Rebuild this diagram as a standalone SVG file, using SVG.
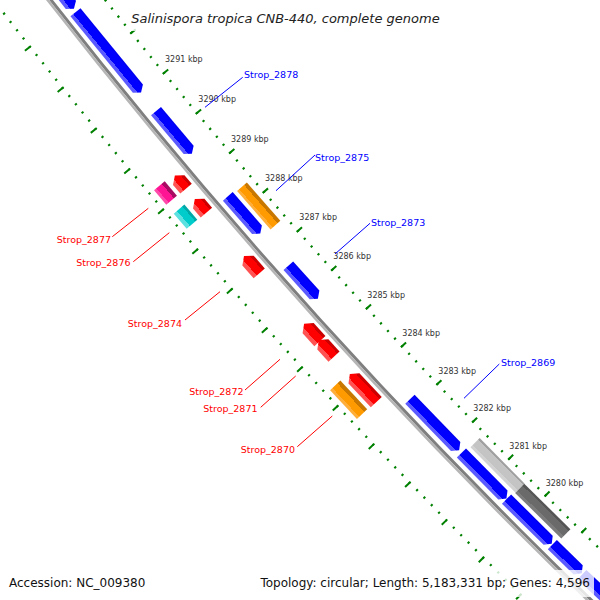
<svg xmlns="http://www.w3.org/2000/svg" width="600" height="600" viewBox="0 0 600 600">
<defs>
<style>
.tk{font-family:"DejaVu Sans",sans-serif;font-size:8px;fill:#333}
.lb{font-family:"DejaVu Sans",sans-serif;font-size:9.5px}
.lr{fill:#ff0000;text-anchor:end}
.lbl{fill:#0000ff}
.cr{stroke:#ff0000;stroke-width:1;fill:none}
.cb{stroke:#0000ff;stroke-width:1;fill:none}
.ft{font-family:"DejaVu Sans",sans-serif;font-size:12px;fill:#111}
.box{fill:#fff;fill-opacity:0.8}
.ring{fill:none;stroke:#008000}
</style>
<linearGradient id="gBlue" x1="0" y1="0" x2="1" y2="0">
<stop offset="0" stop-color="#0000f0"/><stop offset="0.12" stop-color="#0000f0"/><stop offset="0.12" stop-color="#0000ff"/><stop offset="0.72" stop-color="#0000ff"/><stop offset="0.72" stop-color="#5a5aff"/><stop offset="1" stop-color="#5a5aff"/>
</linearGradient>
<linearGradient id="gRed" x1="0" y1="0" x2="1" y2="0">
<stop offset="0" stop-color="#cc0000"/><stop offset="0.2" stop-color="#cc0000"/><stop offset="0.2" stop-color="#ff0000"/><stop offset="0.72" stop-color="#ff0000"/><stop offset="0.72" stop-color="#ff5252"/><stop offset="1" stop-color="#ff5252"/>
</linearGradient>
<linearGradient id="gOrange" x1="0" y1="0" x2="1" y2="0">
<stop offset="0" stop-color="#c87800"/><stop offset="0.28" stop-color="#c87800"/><stop offset="0.28" stop-color="#ff9a00"/><stop offset="0.78" stop-color="#ff9a00"/><stop offset="0.78" stop-color="#ffae3a"/><stop offset="1" stop-color="#ffae3a"/>
</linearGradient>
<linearGradient id="gPink" x1="0" y1="0" x2="1" y2="0">
<stop offset="0" stop-color="#a80c62"/><stop offset="0.28" stop-color="#a80c62"/><stop offset="0.28" stop-color="#ff1493"/><stop offset="0.78" stop-color="#ff1493"/><stop offset="0.78" stop-color="#ff4aab"/><stop offset="1" stop-color="#ff4aab"/>
</linearGradient>
<linearGradient id="gCyan" x1="0" y1="0" x2="1" y2="0">
<stop offset="0" stop-color="#00a8a8"/><stop offset="0.2" stop-color="#00a8a8"/><stop offset="0.2" stop-color="#00cccc"/><stop offset="0.7" stop-color="#00cccc"/><stop offset="0.7" stop-color="#5ce0e0"/><stop offset="1" stop-color="#5ce0e0"/>
</linearGradient>
<linearGradient id="gLGray" x1="0" y1="0" x2="1" y2="0">
<stop offset="0" stop-color="#a0a0a0"/><stop offset="0.15" stop-color="#a0a0a0"/><stop offset="0.15" stop-color="#c4c4c4"/><stop offset="0.75" stop-color="#c4c4c4"/><stop offset="0.75" stop-color="#d2d2d2"/><stop offset="1" stop-color="#d2d2d2"/>
</linearGradient>
<linearGradient id="gDGray" x1="0" y1="0" x2="1" y2="0">
<stop offset="0" stop-color="#555555"/><stop offset="0.2" stop-color="#555555"/><stop offset="0.2" stop-color="#6a6a6a"/><stop offset="0.75" stop-color="#6a6a6a"/><stop offset="0.75" stop-color="#7c7c7c"/><stop offset="1" stop-color="#7c7c7c"/>
</linearGradient>
</defs>
<rect width="600" height="600" fill="#fff"/>

<g id="rings" transform="translate(4613,-3564)">
<circle r="5789" fill="none" stroke="#7f7f7f" stroke-width="3"/>
<circle r="5791.75" fill="none" stroke="#b5b5b5" stroke-width="2.5"/>
<path class="ring" stroke-width="2.4" stroke-dasharray="2 8.35451" stroke-dashoffset="1" d="M-4608.33,3433.02 A5746.5,5746.5 0 0 0 -3880.44,4238.44"/>
<path class="ring" stroke-width="7" stroke-dasharray="2 49.7546" stroke-dashoffset="1" d="M-4606.72,3431.83 A5744.5,5744.5 0 0 0 -3879.09,4236.97"/>
<path class="ring" stroke-width="2.4" stroke-dasharray="2 8.51307" stroke-dashoffset="1" d="M-4678.90,3485.59 A5834.5,5834.5 0 0 0 -3939.87,4303.34"/>
<path class="ring" stroke-width="7" stroke-dasharray="2 50.5924" stroke-dashoffset="1" d="M-4681.31,3487.38 A5837.5,5837.5 0 0 0 -3941.90,4305.55"/>
</g>

<g id="tick-labels" class="tk">
<text x="165" y="62.2">3291 kbp</text>
<text x="198.3" y="102.2">3290 kbp</text>
<text x="231" y="142.2">3289 kbp</text>
<text x="265" y="181.2">3288 kbp</text>
<text x="299.3" y="219.9">3287 kbp</text>
<text x="333.3" y="258.9">3286 kbp</text>
<text x="367.3" y="298.2">3285 kbp</text>
<text x="402.3" y="336.2">3284 kbp</text>
<text x="438.3" y="374.2">3283 kbp</text>
<text x="473.3" y="411.2">3282 kbp</text>
<text x="509.3" y="448.9">3281 kbp</text>
<text x="545.7" y="486.2">3280 kbp</text>
</g>

<g id="genes">
<g id="gene_top1"><polygon transform="translate(4613,-3564) rotate(141.7926)" fill="url(#gBlue)" points="5776.5,0 5783,5 5783,150 5770,150 5770,5"/></g>
<g id="gene_top2"><polygon transform="translate(4613,-3564) rotate(140.7292)" fill="url(#gBlue)" points="5776.5,0 5783,5 5783,103.6 5770,103.6 5770,5"/></g>
<g id="Strop_2878"><polygon transform="translate(4613,-3564) rotate(139.9395)" fill="url(#gBlue)" points="5776.5,0 5783,5 5783,55.7 5770,55.7 5770,5"/><text class="lb lbl" x="244" y="78">Strop_2878</text></g>
<g id="Strop_2875"><polygon transform="translate(4613,-3564) rotate(138.8967)" fill="url(#gBlue)" points="5776.5,0 5783,5 5783,49.4 5770,49.4 5770,5"/><text class="lb lbl" x="315" y="161">Strop_2875</text></g>
<g id="gene_orange1"><polygon transform="translate(4613,-3564) rotate(138.8606)" fill="url(#gOrange)" points="5753,0 5766,0 5766,50.9 5753,50.9"/></g>
<g id="Strop_2873"><polygon transform="translate(4613,-3564) rotate(138.0347)" fill="url(#gBlue)" points="5776.5,0 5783,5 5783,44.2 5770,44.2 5770,5"/><text class="lb lbl" x="371" y="225.7">Strop_2873</text></g>
<g id="Strop_2869"><polygon transform="translate(4613,-3564) rotate(135.9802)" fill="url(#gBlue)" points="5776.5,0 5783,5 5783,70.8 5770,70.8 5770,5"/><text class="lb lbl" x="501" y="366">Strop_2869</text></g>
<g id="gene_blue7"><polygon transform="translate(4613,-3564) rotate(135.3091)" fill="url(#gBlue)" points="5776.5,0 5783,5 5783,64 5770,64 5770,5"/></g>
<g id="gene_blue8"><polygon transform="translate(4613,-3564) rotate(134.6742)" fill="url(#gBlue)" points="5776.5,0 5783,5 5783,63.5 5770,63.5 5770,5"/></g>
<g id="gene_blue9"><polygon transform="translate(4613,-3564) rotate(134.2561)" fill="url(#gBlue)" points="5776.5,0 5783,5 5783,41.1 5770,41.1 5770,5"/></g>
<g id="gene_blue10"><polygon transform="translate(4613,-3564) rotate(133.2495)" fill="url(#gBlue)" points="5776.5,0 5783,5 5783,100.4 5770,100.4 5770,5"/></g>
<g id="gene_lgray"><polygon transform="translate(4613,-3564) rotate(135.2885)" fill="url(#gLGray)" points="5753,0 5766,0 5766,63.8 5753,63.8"/></g>
<g id="gene_dgray"><polygon transform="translate(4613,-3564) rotate(134.6432)" fill="url(#gDGray)" points="5753,0 5766,0 5766,64.9 5753,64.9"/></g>
<g id="Strop_2877"><polygon transform="translate(4613,-3564) rotate(139.7123)" fill="url(#gRed)" points="5796,0 5811,0 5811,11.3 5803.5,17.3 5796,11.3"/><text class="lb lr" x="111" y="243">Strop_2877</text></g>
<g id="gene_pink"><polygon transform="translate(4613,-3564) rotate(139.7175)" fill="url(#gPink)" points="5815,0 5829,0 5829,18.9 5815,18.9"/></g>
<g id="Strop_2876"><polygon transform="translate(4613,-3564) rotate(139.4026)" fill="url(#gRed)" points="5796,0 5811,0 5811,11.8 5803.5,17.8 5796,11.8"/><text class="lb lr" x="130.5" y="266.3">Strop_2876</text></g>
<g id="gene_cyan"><polygon transform="translate(4613,-3564) rotate(139.4078)" fill="url(#gCyan)" points="5815,0 5829,0 5829,19.9 5815,19.9"/></g>
<g id="Strop_2874"><polygon transform="translate(4613,-3564) rotate(138.6077)" fill="url(#gRed)" points="5796,0 5811,0 5811,17 5803.5,23 5796,17"/><text class="lb lr" x="182" y="327">Strop_2874</text></g>
<g id="Strop_2872"><polygon transform="translate(4613,-3564) rotate(137.7095)" fill="url(#gRed)" points="5796,0 5811,0 5811,17.5 5803.5,23.5 5796,17.5"/><text class="lb lr" x="243.5" y="394.5">Strop_2872</text></g>
<g id="Strop_2871"><polygon transform="translate(4613,-3564) rotate(137.5030)" fill="url(#gRed)" points="5796,0 5811,0 5811,16.5 5803.5,22.5 5796,16.5"/><text class="lb lr" x="257.5" y="412.2">Strop_2871</text></g>
<g id="Strop_2870"><polygon transform="translate(4613,-3564) rotate(136.8887)" fill="url(#gRed)" points="5796,0 5811,0 5811,32.7 5803.5,38.7 5796,32.7"/><text class="lb lr" x="295" y="452.5">Strop_2870</text></g>
<g id="gene_orange2"><polygon transform="translate(4613,-3564) rotate(136.8990)" fill="url(#gOrange)" points="5815,0 5829,0 5829,39.3 5815,39.3"/></g>
</g>

<g id="connectors">
<path class="cb" d="M205,107.3 L242.7,77.3"/>
<path class="cb" d="M276,190.7 L315,155"/>
<path class="cb" d="M335,254 L370,223.3"/>
<path class="cb" d="M464,398.3 L499.3,364"/>
<path class="cr" d="M148.3,208.3 L112.3,236.7"/>
<path class="cr" d="M169.3,232.7 L133.3,261.7"/>
<path class="cr" d="M220,291.7 L185,320"/>
<path class="cr" d="M280,359.3 L245,390"/>
<path class="cr" d="M295.7,376 L260.7,407.3"/>
<path class="cr" d="M332.3,416 L297.3,446.7"/>
</g>

<g id="legend">
<rect class="box" x="131" y="3" width="310" height="28"/>
<text x="285.5" y="23" font-family="DejaVu Sans, sans-serif" font-size="13" font-style="italic" fill="#222" text-anchor="middle">Salinispora tropica CNB-440, complete genome</text>
<rect class="box" x="3" y="570" width="150" height="27"/>
<text class="ft" x="9" y="587">Accession: NC_009380</text>
<rect class="box" x="255" y="570" width="339" height="27"/>
<text class="ft" x="590" y="587" text-anchor="end">Topology: circular; Length: 5,183,331 bp; Genes: 4,596</text>
</g>
</svg>
